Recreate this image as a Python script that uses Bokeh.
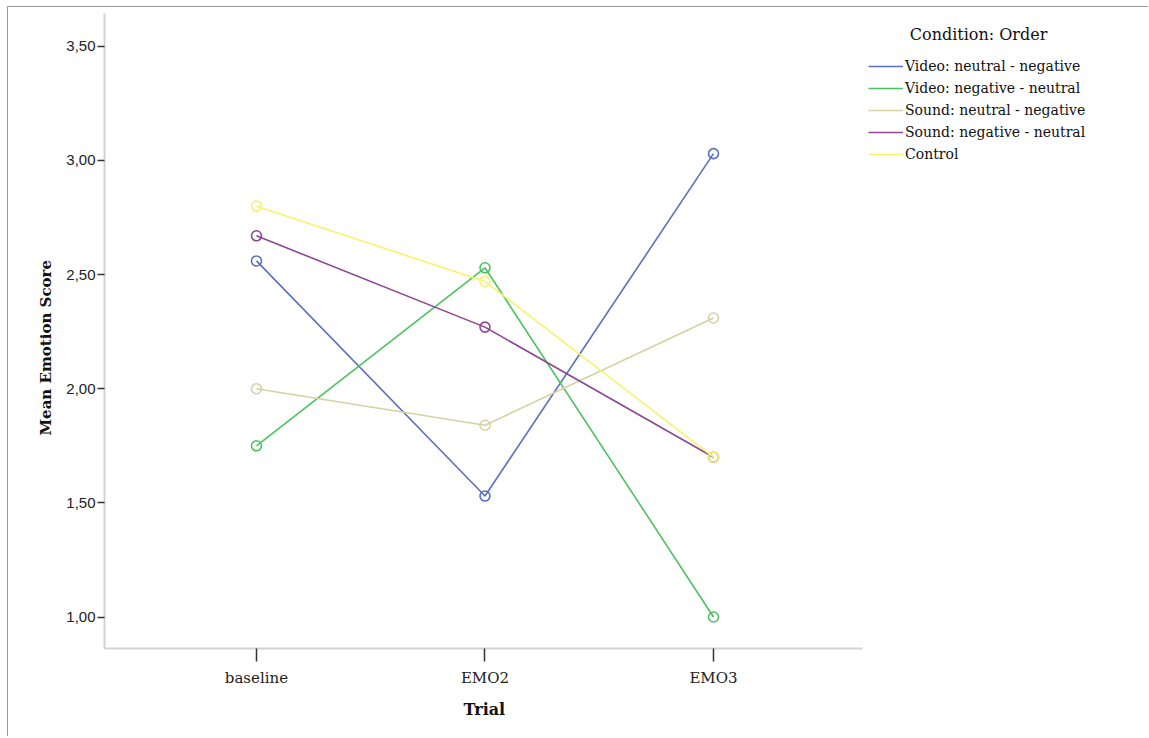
from bokeh.plotting import figure
from bokeh.models import (Range1d, FixedTicker, CustomJSTickFormatter,
                          Legend, LegendItem, Label, Title)
from bokeh.embed import file_html
from bokeh.resources import INLINE

# ---- data ----
trials = ["baseline", "EMO2", "EMO3"]
series_names = ["Video: neutral - negative", "Video: negative - neutral",
                "Sound: neutral - negative", "Sound: negative - neutral", "Control"]
video_neu_neg = [2.56, 1.53, 3.03]
video_neg_neu = [1.75, 2.53, 1.00]
sound_neu_neg = [2.00, 1.84, 2.31]
sound_neg_neu = [2.67, 2.27, 1.70]
control = [2.80, 2.47, 1.70]
y_ticks = [1.0, 1.5, 2.0, 2.5, 3.0, 3.5]

series_values = [video_neu_neg, video_neg_neu, sound_neu_neg, sound_neg_neu, control]
colors = ["#5a70c0", "#4cc35e", "#d6d1a3", "#8c4892", "#f7f36a"]

x_pos = list(range(len(trials)))

SERIF = "DejaVu Serif"
SANS = "Liberation Sans"

p = figure(width=1141, height=730, output_backend="svg", toolbar_location=None,
           x_range=Range1d(-0.665, 3.873),
           y_range=Range1d(0.862, 3.644),
           min_border_left=96, min_border_right=8, min_border_top=6, min_border_bottom=89)
p.margin = (7, 0, 0, 8)
p.styles = {"box-shadow": "-1px -1px 0 0 #9a9a9a"}
p.outline_line_color = None
p.grid.visible = False
p.background_fill_color = "white"
p.border_fill_color = "white"

# axes
for ax in (p.xaxis[0], p.yaxis[0]):
    ax.axis_line_color = "#d2d2d2"
    ax.axis_line_width = 2
    ax.major_tick_line_color = "#333333"
    ax.major_tick_line_width = 1.5
    ax.major_tick_in = 0
    ax.minor_tick_line_color = None

p.yaxis.ticker = FixedTicker(ticks=y_ticks)
p.yaxis.formatter = CustomJSTickFormatter(code="return tick.toFixed(2).replace('.', ',');")
p.yaxis.major_tick_out = 7
p.yaxis.major_label_text_font = SANS
p.yaxis.major_label_text_font_size = "15px"
p.yaxis.major_label_text_color = "#222222"
p.yaxis.major_label_standoff = 2

p.xaxis.ticker = FixedTicker(ticks=x_pos)
p.xaxis.major_label_overrides = {i: t for i, t in zip(x_pos, trials)}
p.xaxis.bounds = (-0.665, 2.652)
p.xaxis.major_tick_out = 13
p.xaxis.major_label_text_font = SERIF
p.xaxis.major_label_text_font_size = "15px"
p.xaxis.major_label_text_color = "#222222"
p.xaxis.major_label_standoff = 7

# axis titles, positioned under / beside the bounded axis span
x_title = Title(text="Trial", align="left", offset=359, text_font=SERIF,
                text_font_style="bold", text_font_size="16px", text_color="#111111",
                standoff=17)
p.add_layout(x_title, "below")
y_title = Title(text="Mean Emotion Score", align="left", offset=213, text_font=SERIF,
                text_font_style="bold", text_font_size="15px", text_color="#111111",
                standoff=18)
p.add_layout(y_title, "left")

items = []
for name, vals, c in zip(series_names, series_values, colors):
    ln = p.line(x_pos, vals, line_color=c, line_width=1.6)
    p.scatter(x_pos, vals, marker="circle", size=10, fill_color=None,
              line_color=c, line_width=1.6)
    items.append(LegendItem(label=name, renderers=[ln]))

legend = Legend(items=items, location=(764, 483), padding=0, margin=0,
                spacing=0, glyph_width=35, glyph_height=22, label_height=22,
                label_standoff=2, label_text_font=SERIF, label_text_font_size="14px",
                label_text_color="#111111", border_line_color=None,
                background_fill_alpha=0)
p.add_layout(legend, "center")

title = Label(x=3.16, y=3.553, text="Condition: Order",
              text_align="center", text_baseline="middle", text_font=SERIF,
              text_font_size="16px", text_color="#111111")
p.add_layout(title)

open("out.html", "w").write(file_html(p, INLINE))
